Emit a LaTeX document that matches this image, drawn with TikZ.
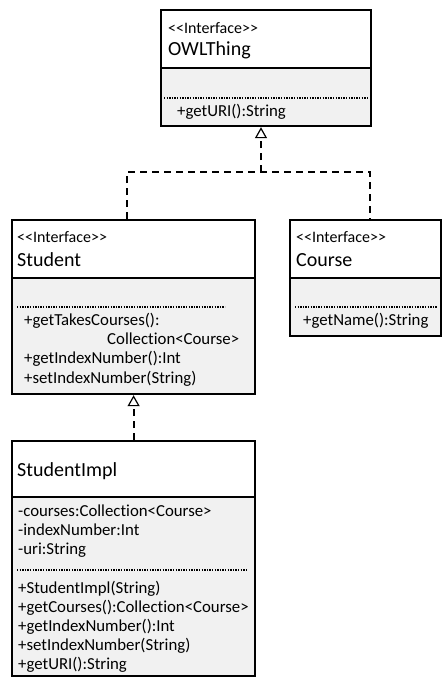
\documentclass[tikz,border=0pt]{standalone}
\usepackage{fontspec}
\setmainfont{Carlito}[Ligatures={NoCommon}]
\usetikzlibrary{arrows.meta,calc}
\definecolor{compgray}{HTML}{F1F1F1}
\newcommand{\stereoI}{{<}{<}Interface{>}{>}}
\tikzset{
  umlbox/.style={draw=black, line width=2.2pt, inner sep=0pt, anchor=north west},
  comp/.style={fill=compgray},
  divider/.style={draw=black, line width=2pt},
  dotsep/.style={draw=black, line width=1.4pt, dash pattern=on 1.4pt off 1.2pt},
  stereo/.style={anchor=base west, inner sep=0pt, font=\fontsize{16}{18}\selectfont},
  cname/.style={anchor=base west, inner sep=0pt, font=\fontsize{20}{24}\selectfont},
  member/.style={anchor=base west, inner sep=0pt, font=\fontsize{16.8}{19}\selectfont},
  dep/.style={draw=black, line width=2pt, dash pattern=on 7pt off 5pt},
  realize/.style={dep, -{Triangle[open, length=11pt, width=12pt, line width=1.2pt]}},
}
\begin{document}
\begin{tikzpicture}[x=1pt,y=-1pt]
\useasboundingbox (0,0) rectangle (445,683);

% ---------- OWLThing ----------
\fill[comp] (160,68) rectangle (370,125);
\node[umlbox, minimum width=210pt, minimum height=116pt] (owl) at (160,9) {};
\draw[divider] (160,68) -- (370,68);
\draw[dotsep] (164,98) -- (367,98);
\node[stereo] (owlst) at (168,33) {\stereoI};
\node[cname] (owln) at (168,55) {OWLThing};
\node[member] (owlm1) at (177,116) {+getURI():String};

% ---------- Student ----------
\fill[comp] (11,278) rectangle (254,393);
\node[umlbox, minimum width=243pt, minimum height=174pt] (student) at (11,219) {};
\draw[divider] (11,278) -- (254,278);
\draw[dotsep] (17,307) -- (225,307);
\node[stereo] (stst) at (17,242) {\stereoI};
\node[cname] (stn) at (17,266) {Student};
\node[member] (stm1) at (24,325) {+getTakesCourses():};
\node[member] (stm2) at (107,344) {Collection{<}Course{>}};
\node[member] (stm3) at (24,363.5) {+getIndexNumber():Int};
\node[member] (stm4) at (24,383) {+setIndexNumber(String)};

% ---------- Course ----------
\fill[comp] (289,278) rectangle (440,335);
\node[umlbox, minimum width=151pt, minimum height=116pt] (course) at (289,219) {};
\draw[divider] (289,278) -- (440,278);
\draw[dotsep] (295,307) -- (437,307);
\node[stereo] (cost) at (296,242) {\stereoI};
\node[cname] (con) at (296,266) {Course};
\node[member] (com1) at (303,325) {+getName():String};

% ---------- StudentImpl ----------
\fill[comp] (11,497) rectangle (254,675);
\node[umlbox, minimum width=243pt, minimum height=235pt] (impl) at (11,440) {};
\draw[divider] (11,497) -- (254,497);
\draw[dotsep] (17,570) -- (247,570);
\node[cname] (impln) at (17,476) {StudentImpl};
\node[member] (ima1) at (18,516) {-courses:Collection{<}Course{>}};
\node[member] (ima2) at (18,535) {-indexNumber:Int};
\node[member] (ima3) at (18,554) {-uri:String};
\node[member] (imm1) at (18,593) {+StudentImpl(String)};
\node[member] (imm2) at (18,612) {+getCourses():Collection{<}Course{>}};
\node[member] (imm3) at (18,631) {+getIndexNumber():Int};
\node[member] (imm4) at (18,650) {+setIndexNumber(String)};
\node[member] (imm5) at (18,669) {+getURI():String};

% ---------- connectors ----------
\coordinate (j) at (261,172);
\coordinate (sTop) at (127,219);
\coordinate (cTop) at (370,219);
\draw[dep] (sTop) |- (j) -| (cTop);
\draw[realize] (j) -- (j |- owl.south);
\draw[realize] (impl.north) -- (student.south);
\end{tikzpicture}
\end{document}
